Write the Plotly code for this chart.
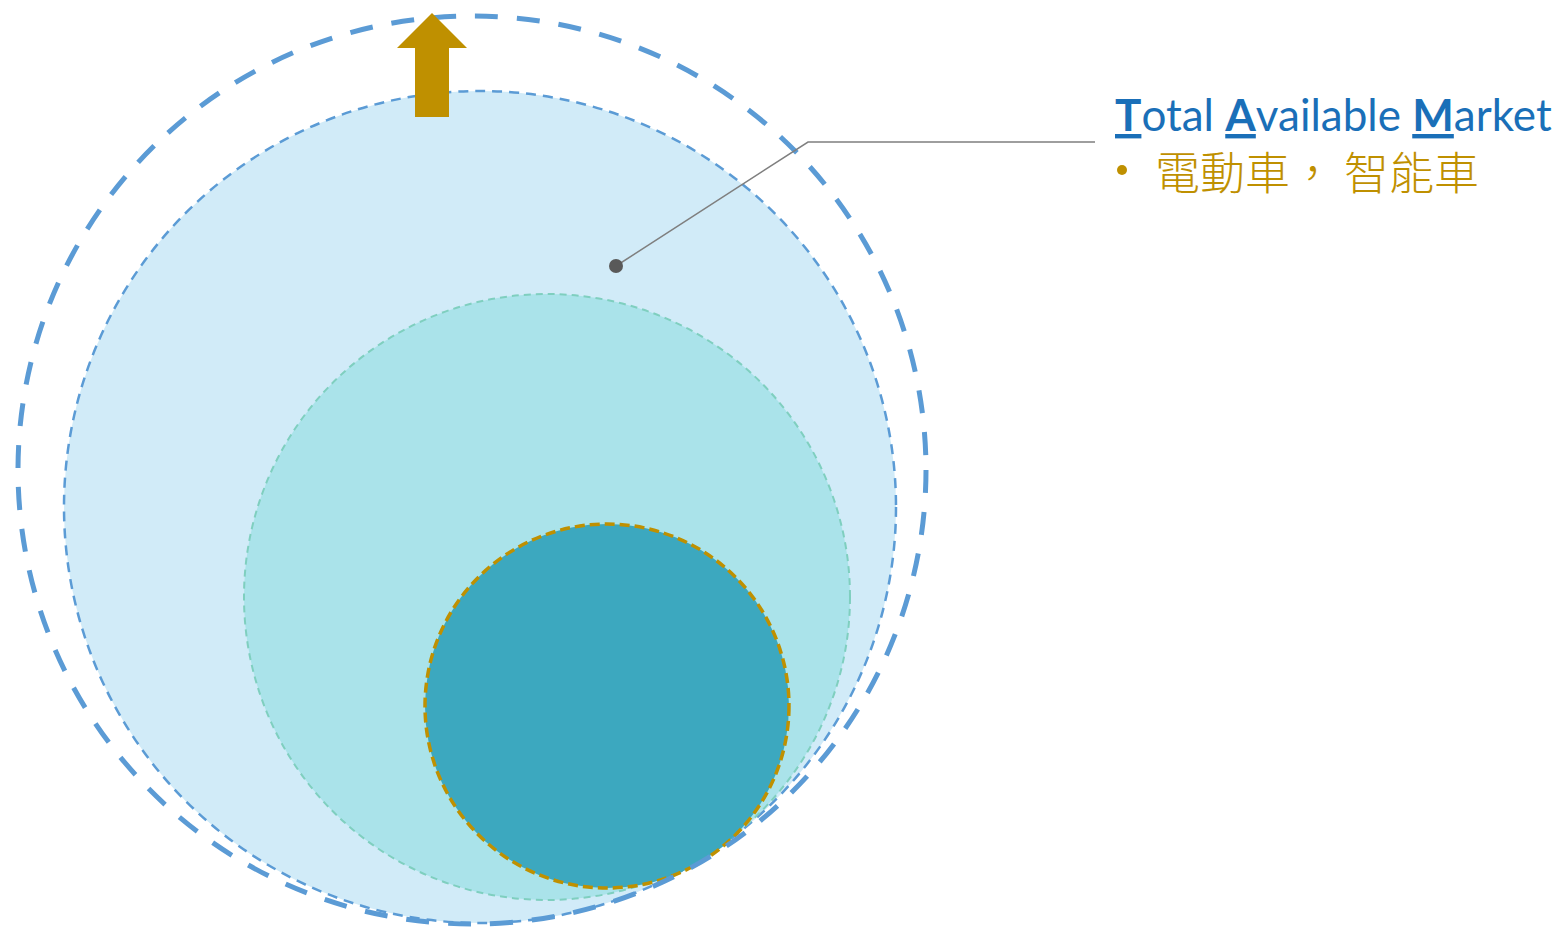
import plotly.graph_objects as go

# ---- data ----
circle_names = ["outer", "tam", "sam", "som"]
circle_cx = [472, 480, 547, 607]
circle_cy = [470, 507, 597, 706]
circle_r = [454, 416, 303, 182]

title_words = ["Total", "Available", "Market"]
bullet_parts = ["電動車", "智能車"]

W, H = 1564, 927
OFF = 8  # page body margin

fig = go.Figure()

styles = {
    "tam": dict(fill="#d1ebf8", line="#5b9bd5", width=2.5, dash="10px,7px"),
    "sam": dict(fill="#aae3ea", line="#7fcfbf", width=2, dash="7px,5px"),
    "som": dict(fill="#3ca8bf", line="#bf9000", width=3.5, dash="10px,5px"),
    "outer": dict(fill="rgba(0,0,0,0)", line="#5b9bd5", width=5, dash="23px,19px"),
}

order = ["tam", "sam", "som", "outer"]
for name in order:
    i = circle_names.index(name)
    s = styles[name]
    cx, cy, r = circle_cx[i], circle_cy[i], circle_r[i]
    fig.add_shape(type="circle", xref="x", yref="y",
                  x0=cx - r, x1=cx + r, y0=cy - r, y1=cy + r,
                  fillcolor=s["fill"], line=dict(color=s["line"], width=s["width"], dash=s["dash"]),
                  layer="below")

# arrow
fig.add_shape(type="path", xref="x", yref="y",
              path="M 415 117 L 415 48 L 397 48 L 432 13 L 467 48 L 449 48 L 449 117 Z",
              fillcolor="#bf9000", line=dict(width=0), layer="below")

# leader line
fig.add_trace(go.Scatter(x=[616, 808, 1095], y=[266, 142, 142], mode="lines",
                         line=dict(color="#7f7f7f", width=1.5), hoverinfo="skip", showlegend=False))
fig.add_trace(go.Scatter(x=[616], y=[266], mode="markers",
                         marker=dict(color="#595959", size=14), hoverinfo="skip", showlegend=False))

title_html = " ".join(f"<b><u>{w[0]}</u></b>{w[1:]}" for w in title_words)
fig.add_annotation(x=1113, y=114, xref="x", yref="y", text=title_html, showarrow=False,
                   xanchor="left", yanchor="middle",
                   font=dict(family="Lato, sans-serif", size=44, color="#1a6fb8"))

# bullet dot
fig.add_trace(go.Scatter(x=[1122], y=[170], mode="markers",
                         marker=dict(color="#bf9000", size=10), hoverinfo="skip", showlegend=False))
fig.add_annotation(x=1153, y=170, xref="x", yref="y",
                   text="，\u2009".join(bullet_parts), showarrow=False,
                   xanchor="left", yanchor="middle",
                   font=dict(family="Noto Sans CJK TC, sans-serif", size=45, color="#bf9000", weight=300))

fig.update_xaxes(range=[OFF, W + OFF], visible=False, fixedrange=True)
fig.update_yaxes(range=[H + OFF, OFF], visible=False, fixedrange=True)
fig.update_layout(width=W, height=H, margin=dict(l=0, r=0, t=0, b=0),
                  paper_bgcolor="white", plot_bgcolor="white", showlegend=False)

fig.write_html("out.html")
